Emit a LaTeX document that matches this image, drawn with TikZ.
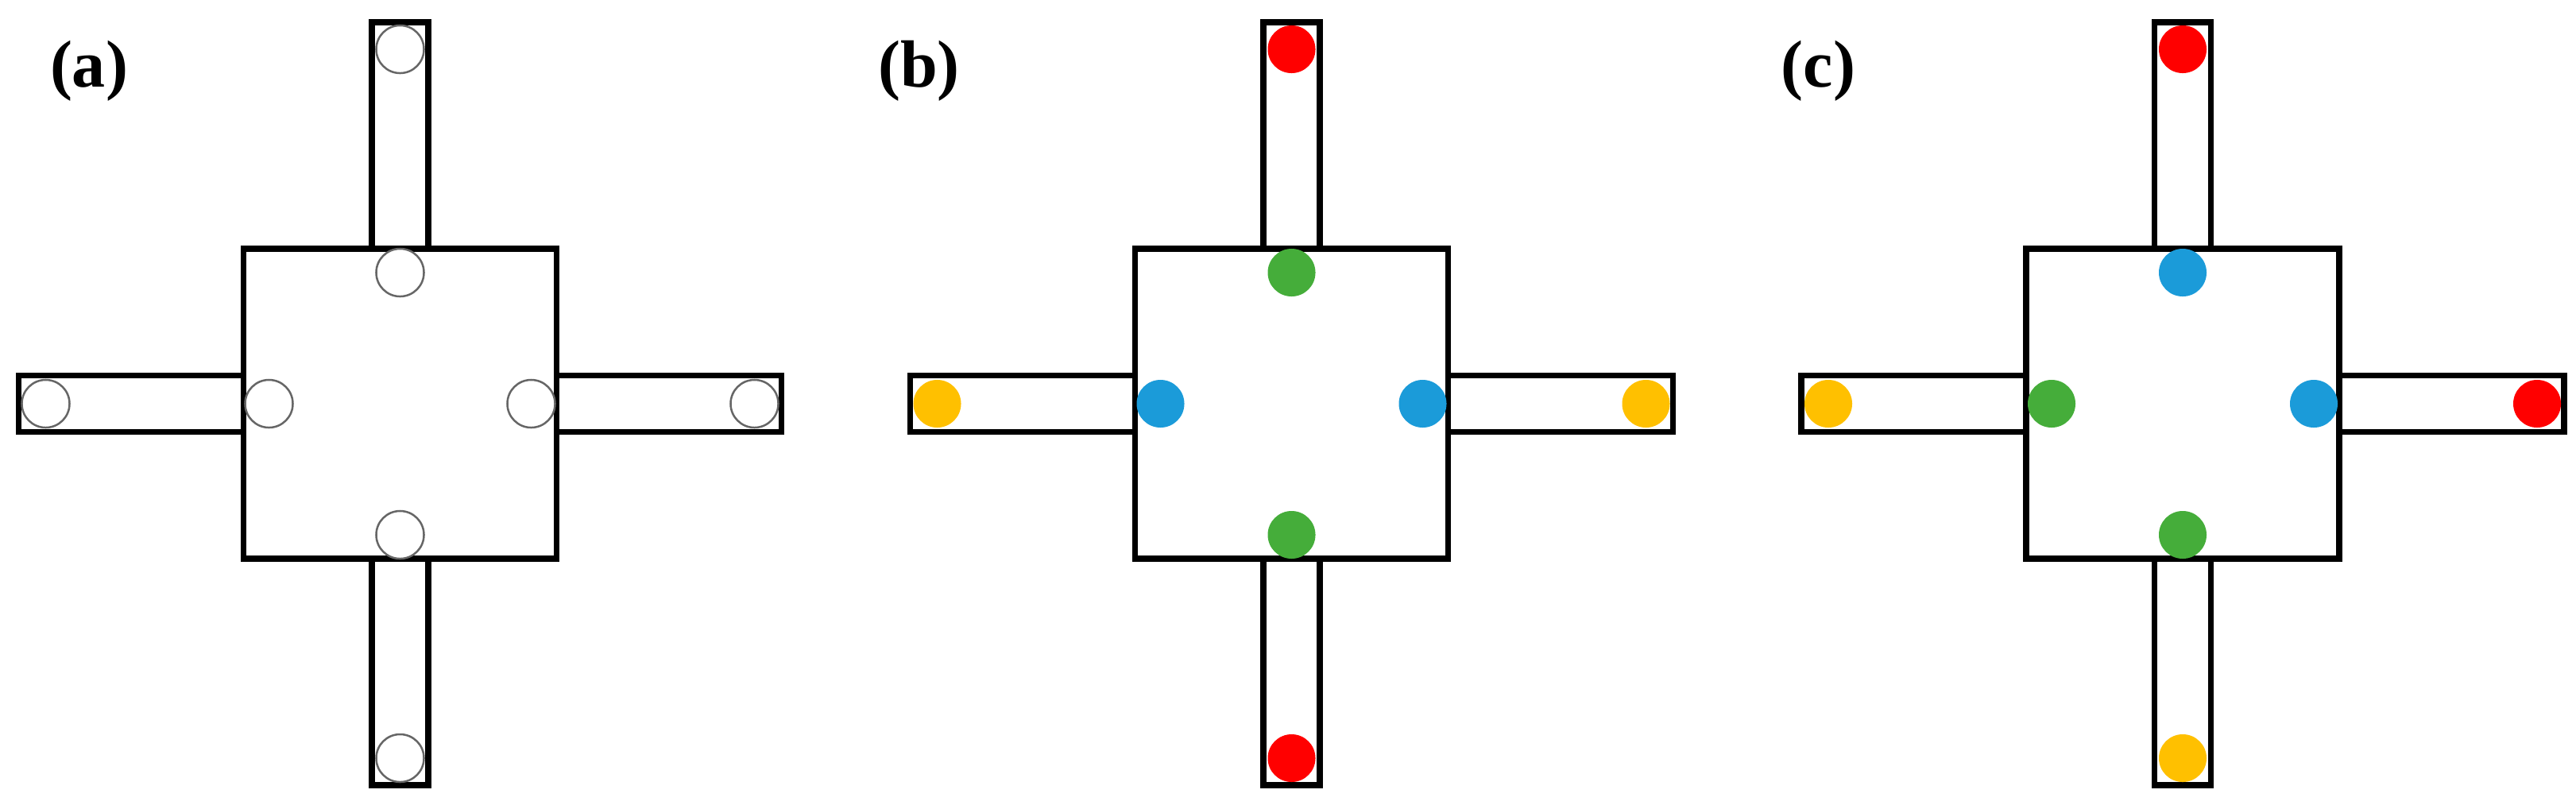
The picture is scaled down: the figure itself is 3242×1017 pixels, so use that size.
\documentclass[tikz,border=0pt]{standalone}
\usepackage{fontspec}
\setmainfont{Liberation Serif}
\definecolor{cred}{HTML}{FF0000}
\definecolor{cgreen}{HTML}{45AD3A}
\definecolor{cblue}{HTML}{1B9BD9}
\definecolor{cyellow}{HTML}{FFC000}
\newcommand\drawcross[1]{%
  \draw[wall] (-35.5,-480) rectangle (35.5,0);
  \draw[wall] (-35.5,480) rectangle (35.5,0);
  \draw[wall] (-480,-35.5) rectangle (0,35.5);
  \draw[wall] (480,-35.5) rectangle (0,35.5);
  \draw[wall] (-197,-195) rectangle (197,195);
}
\begin{document}
\begin{tikzpicture}[x=0.01cm,y=-0.01cm,
  wall/.style={draw=black,line width=0.075cm,fill=white},
  hole/.style={circle,draw=black!60,line width=0.025cm,fill=white,minimum size=0.6cm,inner sep=0pt},
  ball/.style={circle,fill=#1,minimum size=0.6cm,inner sep=0pt},
  lbl/.style={font=\fontsize{23.9}{28}\selectfont\bfseries,inner sep=0pt}]
\useasboundingbox (0,0) rectangle (3242,1017);
% panel (a)
\begin{scope}[shift={(503.5,508)}]
  \drawcross{a}
  \node[hole] (aTe) at (0,-446) {};
  \node[hole] (aBe) at (0,446) {};
  \node[hole] (aLe) at (-446,0) {};
  \node[hole] (aRe) at (446,0) {};
  \node[hole] (aTi) at (0,-165) {};
  \node[hole] (aBi) at (0,165) {};
  \node[hole] (aLi) at (-165,0) {};
  \node[hole] (aRi) at (165,0) {};
\end{scope}
% panel (b)
\begin{scope}[shift={(1625.5,508)}]
  \drawcross{b}
  \node[ball=cred] (bTe) at (0,-446) {};
  \node[ball=cred] (bBe) at (0,446) {};
  \node[ball=cyellow] (bLe) at (-446,0) {};
  \node[ball=cyellow] (bRe) at (446,0) {};
  \node[ball=cgreen] (bTi) at (0,-165) {};
  \node[ball=cgreen] (bBi) at (0,165) {};
  \node[ball=cblue] (bLi) at (-165,0) {};
  \node[ball=cblue] (bRi) at (165,0) {};
\end{scope}
% panel (c)
\begin{scope}[shift={(2747,508)}]
  \drawcross{c}
  \node[ball=cred] (cTe) at (0,-446) {};
  \node[ball=cyellow] (cBe) at (0,446) {};
  \node[ball=cyellow] (cLe) at (-446,0) {};
  \node[ball=cred] (cRe) at (446,0) {};
  \node[ball=cblue] (cTi) at (0,-165) {};
  \node[ball=cgreen] (cBi) at (0,165) {};
  \node[ball=cgreen] (cLi) at (-165,0) {};
  \node[ball=cblue] (cRi) at (165,0) {};
\end{scope}
\node[lbl] (la) at (112,89) {(a)};
\node[lbl] (lb) at (1156.5,89) {(b)};
\node[lbl] (lc) at (2288.5,89) {(c)};
\end{tikzpicture}
\end{document}
